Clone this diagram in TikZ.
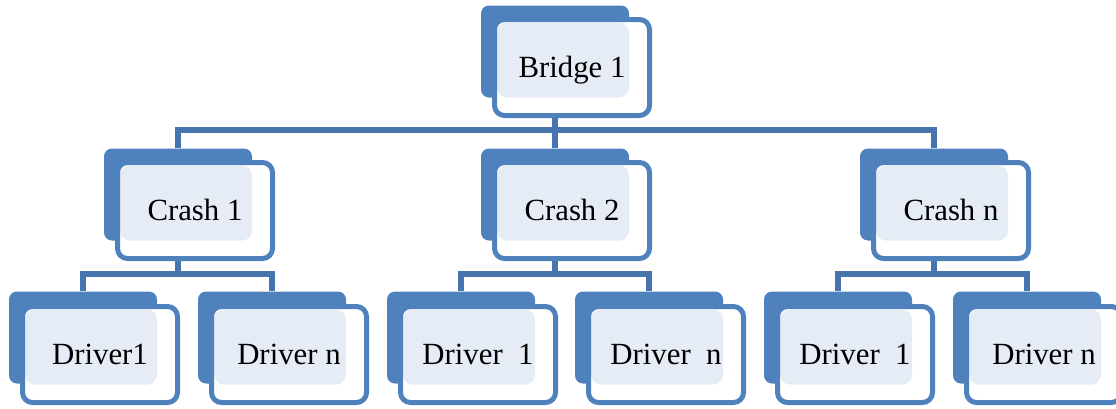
\documentclass[tikz,border=0pt]{standalone}
\usepackage{fontspec}
\setmainfont{Liberation Serif}
\usetikzlibrary{positioning}

\definecolor{boxblue}{RGB}{79,129,189}
\definecolor{lineblue}{RGB}{70,116,173}
\definecolor{dotfill}{RGB}{229,236,246}

\begin{document}
\begin{tikzpicture}[x=1pt, y=1pt,
    back/.style={rectangle, rounded corners=8pt, fill=boxblue, minimum width=148pt, minimum height=92pt, inner sep=0pt},
    card/.style={rectangle, rounded corners=10pt, draw=boxblue, line width=5pt, fill=white,
      minimum width=155pt, minimum height=96pt, inner sep=0pt, text height=20pt, text depth=0pt,
      font=\fontsize{30.8}{36}\selectfont,
      path picture={\fill[dotfill] ([shift={(-75pt,45pt)}]path picture bounding box.center) rectangle ([shift={(57pt,-30pt)}]path picture bounding box.center);}},
    link/.style={draw=lineblue, line width=5.5pt}]
    \useasboundingbox (0,0) rectangle (1116,-408);

    % top
    \node[back] (bridgeB) at (555,-51.5) {};
    \node[card] (bridge) at ([shift={(17,-16)}]bridgeB) {Bridge 1};

    % crashes
    \node[back] (c1B) at (178,-194.5) {};
    \node[card] (c1) at ([shift={(17,-16)}]c1B) {Crash 1};
    \node[back] (c2B) at (555,-194.5) {};
    \node[card] (c2) at ([shift={(17,-16)}]c2B) {Crash 2};
    \node[back] (c3B) at (934,-194.5) {};
    \node[card] (c3) at ([shift={(17,-16)}]c3B) {Crash n};

    % drivers
    \node[back] (d11B) at (83,-337.5) {};
    \node[card] (d11) at ([shift={(17,-17)}]d11B) {Driver1};
    \node[back] (d1nB) at (272,-337.5) {};
    \node[card] (d1n) at ([shift={(17,-17)}]d1nB) {Driver n};
    \node[back] (d21B) at (461,-337.5) {};
    \node[card] (d21) at ([shift={(17,-17)}]d21B) {Driver~~1};
    \node[back] (d2nB) at (649,-337.5) {};
    \node[card] (d2n) at ([shift={(17,-17)}]d2nB) {Driver~~n};
    \node[back] (d31B) at (838,-337.5) {};
    \node[card] (d31) at ([shift={(17,-17)}]d31B) {Driver~~1};
    \node[back] (d3nB) at (1027,-337.5) {};
    \node[card] (d3n) at ([shift={(17,-17)}]d3nB) {Driver n};

    % connectors
    \coordinate (bus0) at (0,-130);
    \coordinate (bus1) at (0,-274);

    \path[link] (bridgeB |- bridge.south) -- (bridgeB |- bus0);
    \path[link] (c1B.north) -- (c1B |- bus0) -- (c3B |- bus0) -- (c3B.north);
    \path[link] (c2B |- bus0) -- (c2B.north);

    \path[link] (c1B |- c1.south) -- (c1B |- bus1);
    \path[link] (d11B.north) -- (d11B |- bus1) -- (d1nB |- bus1) -- (d1nB.north);
    \path[link] (c2B |- c2.south) -- (c2B |- bus1);
    \path[link] (d21B.north) -- (d21B |- bus1) -- (d2nB |- bus1) -- (d2nB.north);
    \path[link] (c3B |- c3.south) -- (c3B |- bus1);
    \path[link] (d31B.north) -- (d31B |- bus1) -- (d3nB |- bus1) -- (d3nB.north);
\end{tikzpicture}
\end{document}
